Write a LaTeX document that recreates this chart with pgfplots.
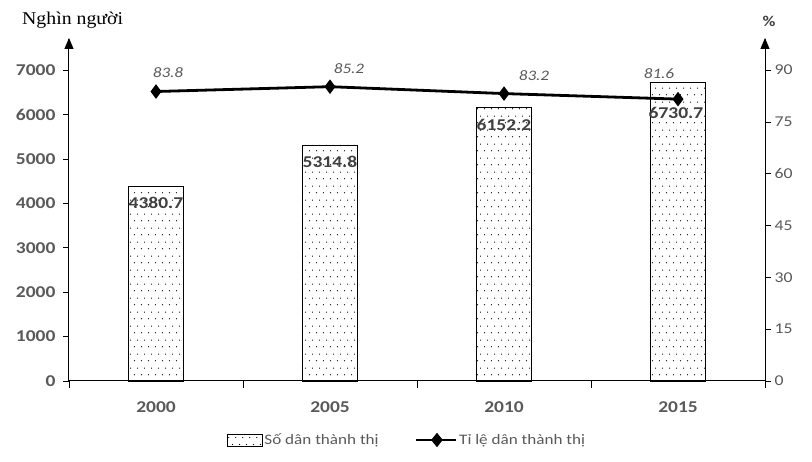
\documentclass[border=0pt]{standalone}
\usepackage{pgfplots}
\pgfplotsset{compat=1.18}
\usepackage{fontspec}
\setmainfont{Carlito}[FakeStretch=1.18]
\newfontfamily\serifx{Liberation Serif}[FakeStretch=1.1]
\usetikzlibrary{patterns.meta,arrows.meta}
\definecolor{tickgray}{HTML}{595959}
\definecolor{labgray}{HTML}{404040}
\tikzdeclarepattern{
  name=sparsedots,
  type=uncolored,
  bounding box={(0pt,0pt) and (7pt,14pt)},
  tile size={(7pt,14pt)},
  code={\fill (1.75pt,3.5pt) circle (0.7pt); \fill (5.25pt,10.5pt) circle (0.7pt);}
}
\begin{document}
\begin{tikzpicture}[font=\fontsize{15}{17}\selectfont]
\useasboundingbox (-69pt,-81pt) rectangle (743pt,381pt);
\begin{axis}[
  scale only axis, width=696pt, height=342pt,
  xmin=-0.5, xmax=3.5, ymin=0, ymax=7700,
  axis y line*=left, axis x line*=bottom,
  y axis line style={-, line width=1pt},
  x axis line style={-, line width=1pt},
  tick align=outside,
  ytick={0,1000,...,7000},
  major tick length=6pt,
  ytick style={black, line width=0.8pt},
  xtick={0,1,2,3}, xticklabels={2000,2005,2010,2015},
  major x tick style={draw=none},
  minor xtick={-0.5,0.5,1.5,2.5,3.5},
  minor tick length=7pt,
  minor x tick style={black, line width=0.8pt},
  yticklabel style={font=\fontsize{16.5}{18}\selectfont\bfseries, text=tickgray, xshift=-4pt},
  xticklabel style={font=\fontsize{16.5}{18}\selectfont\bfseries, text=tickgray, yshift=-11pt},
  /pgf/number format/1000 sep={},
  /pgf/number format/assume math mode=true,
  clip=false,
]
\addplot[ybar, bar width=55pt, draw=black, line width=0.8pt, pattern=sparsedots, pattern color=black]
  coordinates {(0,4380.7) (1,5314.8) (2,6152.2) (3,6730.7)};
\node[font=\fontsize{16.5}{18}\selectfont\bfseries, text=labgray] at ([yshift=-16pt]axis cs:0,4380.7) {4380.7};
\node[font=\fontsize{16.5}{18}\selectfont\bfseries, text=labgray] at ([yshift=-17pt]axis cs:1,5314.8) {5314.8};
\node[font=\fontsize{16.5}{18}\selectfont\bfseries, text=labgray] at ([yshift=-17pt]axis cs:2,6152.2) {6152.2};
\node[font=\fontsize{16.5}{18}\selectfont\bfseries, text=labgray] at ([xshift=-2pt,yshift=-31pt]axis cs:3,6730.7) {6730.7};
\end{axis}
\begin{axis}[
  scale only axis, width=696pt, height=342pt,
  xmin=-0.5, xmax=3.5, ymin=0, ymax=99,
  axis y line*=right, axis x line=none,
  y axis line style={-, line width=1pt},
  tick align=outside,
  ytick={0,15,...,90},
  major tick length=6pt,
  ytick style={black, line width=0.8pt},
  yticklabel style={font=\fontsize{15}{17}\selectfont, text=tickgray},
  /pgf/number format/assume math mode=true,
  clip=false,
  legend columns=2,
  legend style={at={(0.5,-59pt)}, anchor=center, xshift=-10pt, draw=none, fill=none,
    font=\fontsize{14.5}{16}\selectfont, text=tickgray,
    /tikz/every even column/.append style={column sep=34pt}},
]
\addlegendimage{legend image code/.code={\draw[black, line width=0.6pt, pattern=sparsedots, pattern color=black] (0pt,-6pt) rectangle (35pt,6pt);}}
\addlegendentry{Số dân thành thị}
\addplot[black, line width=2.8pt, mark=diamond*, mark size=5pt,
  legend image code/.code={\draw[black, line width=2.5pt] (0pt,0pt) -- (40pt,0pt); \fill[black] (21pt,0pt) +(0,5pt) -- +(4pt,0) -- +(0,-5pt) -- +(-4pt,0) -- cycle;}]
  coordinates {(0,83.8) (1,85.2) (2,83.2) (3,81.6)};
\addlegendentry{Tỉ lệ dân thành thị}
\node[font=\fontsize{14.5}{16}\selectfont\itshape, text=tickgray] at ([xshift=12pt,yshift=19pt]axis cs:0,83.8) {83.8};
\node[font=\fontsize{14.5}{16}\selectfont\itshape, text=tickgray] at ([xshift=19pt,yshift=18pt]axis cs:1,85.2) {85.2};
\node[font=\fontsize{14.5}{16}\selectfont\itshape, text=tickgray] at ([xshift=30pt,yshift=18pt]axis cs:2,83.2) {83.2};
\node[font=\fontsize{14.5}{16}\selectfont\itshape, text=tickgray] at ([xshift=-19pt,yshift=26pt]axis cs:3,81.6) {81.6};
\end{axis}
\draw[line width=1pt, -{Triangle[width=9pt,length=11pt]}] (0pt,320pt) -- (0pt,343pt);
\draw[line width=1pt, -{Triangle[width=9pt,length=11pt]}] (696pt,320pt) -- (696pt,343pt);
\node[font=\serifx\fontsize{18}{20}\selectfont, anchor=west, inner sep=0pt] at (-47pt,361pt) {Nghìn người};
\node[font=\fontsize{15}{17}\selectfont\bfseries, text=labgray] at (700pt,360pt) {\%};
\end{tikzpicture}
\end{document}
